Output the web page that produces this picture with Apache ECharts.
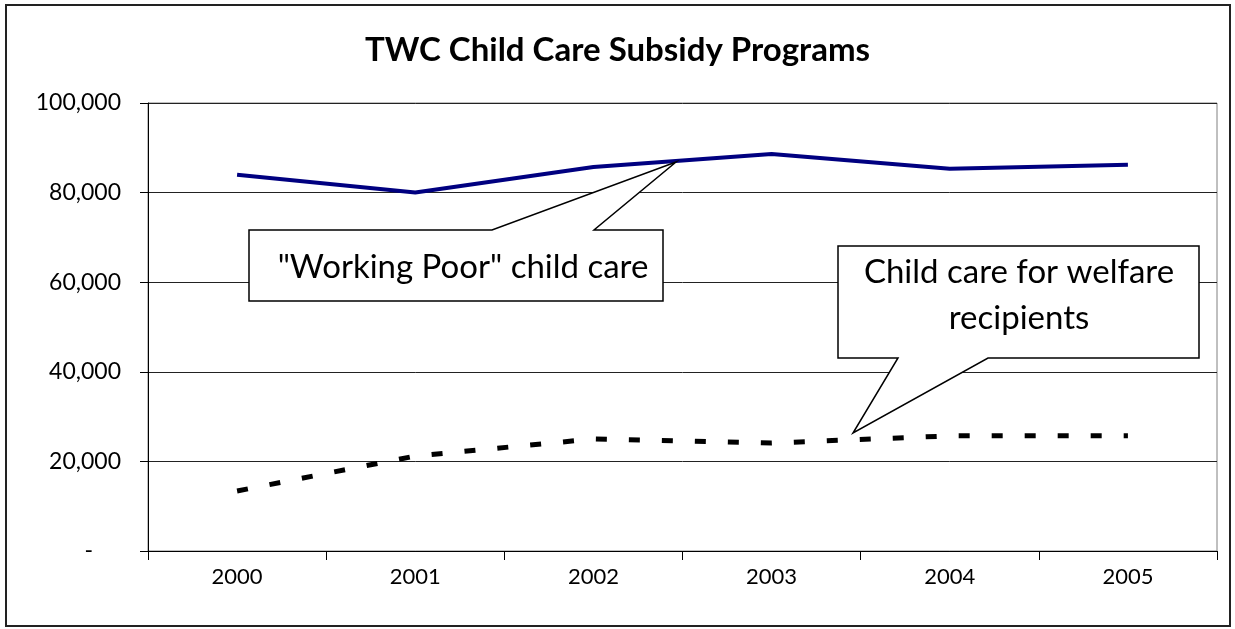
<!DOCTYPE html>
<html>
<head>
<meta charset="utf-8">
<script src="https://cdn.jsdelivr.net/npm/echarts@6/dist/echarts.min.js"></script>
<style>
html,body{margin:0;padding:0;background:#fff;}
#chart{width:1235px;height:629px;}
</style>
</head>
<body>
<div id="chart"></div>
<script>
const categories = ['2000', '2001', '2002', '2003', '2004', '2005'];
const workingPoor = [84000, 80000, 85700, 88600, 85300, 86200];
const welfare = [13400, 21200, 25000, 24100, 25700, 25700];
const yTicks = [0, 20000, 40000, 60000, 80000, 100000];
const titleText = 'TWC Child Care Subsidy Programs';
const callout1Text = '"Working Poor" child care';
const callout2Text = 'Child care for welfare\nrecipients';

const FONT = 'Lato, "Open Sans", sans-serif';
const chart = echarts.init(document.getElementById('chart'), null, {renderer: 'canvas'});

const option = {
  backgroundColor: '#fff',
  animation: false,
  title: {
    text: titleText,
    left: 'center',
    top: 29,
    textStyle: {fontFamily: FONT, fontWeight: 'bold', fontSize: 33, color: '#000'}
  },
  grid: {
    left: 148, right: 18, top: 103, bottom: 78,
    show: true, borderColor: '#808080', borderWidth: 1
  },
  xAxis: {
    type: 'category',
    data: categories,
    boundaryGap: true,
    axisLine: {show: true, lineStyle: {color: '#000', width: 1}},
    axisTick: {show: true, length: 9, inside: false, lineStyle: {color: '#000'}},
    axisLabel: {fontFamily: FONT, fontSize: 22, color: '#000', margin: 15},
    splitLine: {show: false}
  },
  yAxis: {
    type: 'value',
    min: yTicks[0],
    max: yTicks[yTicks.length - 1],
    interval: yTicks[1] - yTicks[0],
    axisLine: {show: true, lineStyle: {color: '#000', width: 1}},
    axisTick: {show: true, length: 8, lineStyle: {color: '#000'}},
    axisLabel: {
      fontFamily: FONT, fontSize: 23, color: '#000', margin: 27,
      formatter: function (v) {
        if (v === 0) return '{d|-}';
        return v.toLocaleString('en-US');
      },
      rich: {d: {fontFamily: FONT, fontSize: 23, color: '#000', padding: [0, 28, 0, 0]}}
    },
    splitLine: {show: true, lineStyle: {color: '#222', width: 1}}
  },
  series: [
    {
      name: 'Working Poor',
      type: 'line',
      data: workingPoor,
      showSymbol: false,
      symbol: 'none',
      lineStyle: {color: '#000080', width: 4},
      z: 3
    },
    {
      name: 'Welfare',
      type: 'line',
      data: welfare,
      showSymbol: false,
      symbol: 'none',
      lineStyle: {color: '#000', width: 5, type: [11, 22], cap: 'butt'},
      z: 3
    }
  ],
  graphic: [
    {
      type: 'rect',
      shape: {x: 6, y: 5, width: 1224, height: 621},
      style: {fill: 'none', stroke: '#222', lineWidth: 2},
      z: 0, silent: true
    },
    {
      type: 'polygon',
      shape: {points: [[249, 230], [492, 230], [676, 162], [594, 230], [663, 230], [663, 301], [249, 301]]},
      style: {fill: '#fff', stroke: '#000', lineWidth: 1.5},
      z: 10
    },
    {
      type: 'text',
      x: 463, y: 267,
      style: {text: callout1Text, fontFamily: FONT, fontSize: 33, fill: '#000', align: 'center', verticalAlign: 'middle'},
      z: 11
    },
    {
      type: 'polygon',
      shape: {points: [[838, 246], [1199, 246], [1199, 358], [988, 358], [853, 433], [898, 358], [838, 358]]},
      style: {fill: '#fff', stroke: '#000', lineWidth: 1.5},
      z: 10
    },
    {
      type: 'text',
      x: 1019, y: 295,
      style: {text: callout2Text, fontFamily: FONT, fontSize: 33, lineHeight: 46, fill: '#000', align: 'center', verticalAlign: 'middle'},
      z: 11
    }
  ]
};
chart.setOption(option);
</script>
</body>
</html>
